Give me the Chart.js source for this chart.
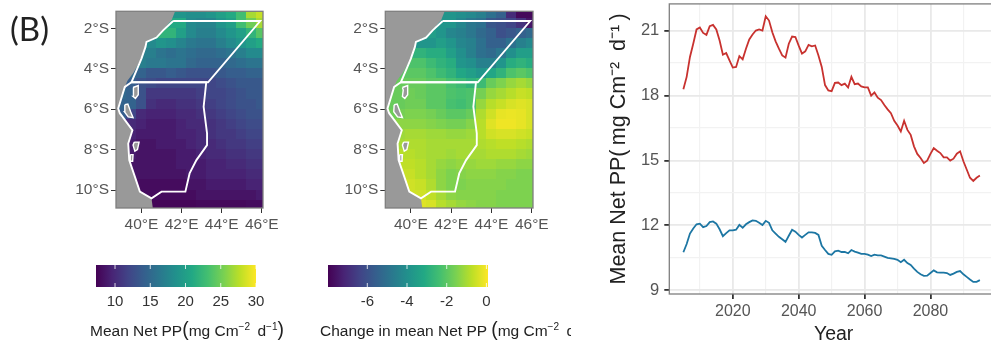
<!DOCTYPE html>
<html>
<head>
<meta charset="utf-8">
<script src="https://cdn.jsdelivr.net/npm/chart.js@4"></script>
<style>
  html, body { margin: 0; padding: 0; background: #fff; width: 991px; height: 341px; overflow: hidden; }
  canvas { position: absolute; filter: blur(0.55px); }
  .lbl { position: absolute; white-space: nowrap; overflow: hidden; font-family: "Liberation Sans", sans-serif; color: #222; filter: blur(0.3px); }
  .lbl sup { font-size: 65%; line-height: 0; }
  .lbl b { font-weight: normal; font-size: 125%; }
</style>
</head>
<body>
<div class="lbl" style="left:10px;top:8px;font:33px Lato,sans-serif;color:#222;">(B)</div>
<canvas id="map1" width="230" height="245" style="left:60px;top:0"></canvas>
<canvas id="map2" width="230" height="245" style="left:330px;top:0"></canvas>
<canvas id="bar1" width="230" height="62" style="left:70px;top:255px"></canvas>
<canvas id="bar2" width="220" height="62" style="left:300px;top:255px"></canvas>
<div class="lbl" style="left:90px;top:318px;font-size:15.5px;">Mean Net PP<b>(</b>mg Cm<sup>&minus;2</sup>&thinsp; d<sup>&minus;1</sup><b>)</b></div>
<div class="lbl" style="left:320px;top:318px;width:251px;font-size:15.5px;">Change in mean Net PP <b>(</b>mg Cm<sup>&minus;2</sup>&thinsp; d<sup>&minus;1</sup><b>)</b></div>
<canvas id="lines" width="398" height="357" style="left:600px;top:-11px"></canvas>
<script>
// line panel
const northSeries = [18.29,18.86,19.78,20.39,21.05,21.14,20.89,20.8,21.2,21.26,21.05,20.54,19.88,19.96,19.62,19.29,19.32,19.82,19.67,20.16,20.59,20.82,21.0,21.05,21.0,21.66,21.46,20.92,20.5,20.16,19.85,19.75,20.39,20.72,20.7,20.3,19.93,20.04,20.34,20.27,20.31,19.85,19.32,18.48,18.23,18.2,18.58,18.6,18.48,18.55,18.37,18.86,18.52,18.55,18.42,18.37,18.37,17.99,18.14,17.9,17.79,17.56,17.36,17.18,16.83,16.61,16.34,16.83,16.41,16.18,15.65,15.3,15.11,14.88,14.99,15.3,15.57,15.45,15.34,15.14,15.14,14.99,15.08,15.31,15.42,14.96,14.58,14.2,14.05,14.2,14.3];
const southSeries = [10.76,11.14,11.62,11.86,12.05,12.08,11.92,11.97,12.15,12.18,12.08,11.82,11.5,11.64,11.77,11.77,11.8,12.02,11.89,12.05,12.15,12.23,12.21,12.12,12.02,12.21,12.12,11.77,11.62,11.47,11.36,11.24,11.52,11.8,11.71,11.56,11.44,11.56,11.68,11.68,11.65,11.56,11.06,10.86,10.68,10.64,10.8,10.83,10.77,10.77,10.71,10.86,10.79,10.74,10.68,10.68,10.65,10.58,10.65,10.61,10.61,10.56,10.5,10.48,10.45,10.41,10.3,10.41,10.26,10.17,10,9.85,9.74,9.67,9.68,9.8,9.92,9.83,9.82,9.82,9.8,9.71,9.77,9.85,9.89,9.74,9.62,9.5,9.39,9.39,9.47];
const firstYear = 2005;
const yearTicks = [2010,2020,2030,2040,2050,2060,2070,2080,2090];
const yearLabels = [2020,2040,2060,2080];
const ppTicks = [9,10.5,12,13.5,15,16.5,18,19.5,21];
const ppLabels = [9,12,15,18,21];

// map panels, 0.5 degree cells, null where it is land
const lons = [39,39.5,40,40.5,41,41.5,42,42.5,43,43.5,44,44.5,45,45.5,46];
const lats = [-1.25,-1.75,-2.25,-2.75,-3.25,-3.75,-4.25,-4.75,-5.25,-5.75,-6.25,-6.75,-7.25,-7.75,-8.25,-8.75,-9.25,-9.75,-10.25,-10.75];
const meanPP = [
  [null,null,null,null,null,19,19,18.5,18.5,19,20,21,23,27,28],
  [null,null,null,null,null,21,21,18,17.5,17.5,19,20,23,25,27],
  [null,null,null,null,22,22,20,18,17,17,18,19,20,22,24],
  [null,null,null,18,19,18.5,17.5,16.5,16,16,17,18,19,20,21],
  [null,null,17,17,16,15.5,16,15.5,15,15,15.5,16,17,18,18],
  [null,null,17,16.5,16.5,16,16,15,14.5,14.5,14.5,15,15.5,16,16],
  [null,15,14.5,13.5,13.5,14,13.5,13,13,13,13.5,14,14,14.5,14.5],
  [null,14,13,12.5,12,12,12,12,12,12,12.5,13,13.5,13.5,13.5],
  [15,14.5,13,11,11,11,11,11,11.5,12,12,12.5,13,13.5,13.5],
  [14.5,14.5,13,10.5,10,10,10.5,10.5,11,11.5,12,12.5,13,13,13.5],
  [14,12,10,9.5,9.5,9.5,10,10,10.5,11,11.5,12,12.5,13,13],
  [10,10,9.5,9,9,9,9.5,10,10,10.5,11,11.5,12,12.5,12.5],
  [9.5,9.5,9,9,9,9,9.5,9.5,10,10.5,11,11,11.5,12,12],
  [9.5,9,8.5,8.5,9,9,9,9.5,10,10,10.5,11,11,11.5,11.5],
  [9,9,8.5,8.5,8.5,8.5,9,9,9.5,10,10,10.5,10.5,11,11],
  [9,8.5,8.5,8.5,8.5,8.5,9,9,9,9.5,9.5,10,10,10.5,10.5],
  [8.5,8.5,8.5,8.5,8.5,8.5,8.5,9,9,9.5,9.5,9.5,9.5,10,10],
  [8,8,8,8,8,8,8,8.5,8.5,9,9,9,9,9.5,9.5],
  [8,8,8,8,8,8,8,8,8.5,8.5,8.5,8.5,8.5,8.5,9],
  [null,null,null,7.6,7.6,7.6,7.6,7.6,7.8,7.8,7.8,7.8,7.8,8,8]
];
const changePP = [
  [null,null,null,null,null,-3.8,-3.8,-4,-4.2,-4.5,-5,-5.5,-7,-7.8,-7.8],
  [null,null,null,null,null,-3.8,-3.8,-4.3,-4.8,-5,-5.8,-6,-6.3,-6.8,-7.5],
  [null,null,null,null,-3.5,-3.8,-4.3,-4.5,-4.8,-5.2,-5.5,-6,-5.8,-5.5,-5.2],
  [null,null,null,-3.8,-3.8,-3.5,-3.8,-4.3,-4.5,-5,-5.5,-5.5,-5,-4.5,-4.2],
  [null,null,-2.8,-2.8,-3,-3,-3.5,-4,-4.5,-5,-5.2,-4.8,-4,-3.5,-3.5],
  [null,null,-2.2,-2.2,-2.5,-2.8,-3,-3.8,-4,-4.5,-4.5,-3.8,-3,-2.8,-3],
  [null,-2,-2,-2,-2.2,-2.5,-2.8,-3.2,-3.5,-3.8,-3.2,-2.8,-2.2,-2,-2.2],
  [null,-1.8,-1.8,-1.8,-2,-2,-2.3,-2.5,-2.8,-2.5,-1.8,-1.5,-1.2,-1,-1.2],
  [-1.8,-1.8,-1.7,-1.8,-2,-2,-2.2,-2.3,-2.2,-1.6,-1.2,-1,-0.8,-0.6,-0.7],
  [-1.8,-1.8,-1.7,-1.7,-2,-2,-2.3,-2.4,-2.2,-1.2,-0.8,-0.6,-0.4,-0.3,-0.4],
  [-1.7,-1.6,-1.5,-1.5,-1.6,-1.8,-2,-2,-1.8,-0.9,-0.5,-0.2,-0.15,-0.2,-0.4],
  [-1.5,-1.3,-1.3,-1.3,-1.4,-1.5,-1.6,-1.6,-1.4,-0.8,-0.3,-0.1,-0.1,-0.2,-0.4],
  [-1.2,-1.1,-1,-1,-1.1,-1.1,-1.2,-1.2,-1.1,-0.8,-0.5,-0.4,-0.4,-0.5,-0.6],
  [-1,-1,-0.9,-0.9,-1,-1,-1,-1,-1,-0.9,-0.8,-0.7,-0.7,-0.8,-0.9],
  [-0.9,-0.8,-0.8,-0.9,-1,-1,-1.1,-1,-1,-1,-0.9,-0.9,-0.9,-1,-1.1],
  [-0.7,-0.7,-0.7,-0.8,-1,-1.2,-1.3,-1.2,-1.2,-1.1,-1.1,-1.2,-1.2,-1.3,-1.3],
  [-0.6,-0.6,-0.6,-0.8,-1,-1.3,-1.5,-1.4,-1.3,-1.3,-1.3,-1.4,-1.4,-1.5,-1.5],
  [-0.5,-0.5,-0.5,-0.6,-0.9,-1.3,-1.5,-1.5,-1.4,-1.4,-1.4,-1.4,-1.5,-1.5,-1.5],
  [-0.5,-0.5,-0.5,-0.5,-0.7,-1,-1.3,-1.4,-1.4,-1.4,-1.4,-1.5,-1.5,-1.5,-1.5],
  [null,null,null,-0.3,-0.4,-0.8,-1,-1.2,-1.3,-1.4,-1.4,-1.5,-1.5,-1.5,-1.5]
];
const lonTicks = [40,42,44,46];
const latTicks = [-10,-8,-6,-4,-2];

// outlines as [lon, lat]
const landShape = [[41.74,-1],[41.5,-1.6],[41.1,-2.05],[40.75,-2.4],[40.25,-2.65],[40.2,-2.95],[40,-3.5],[39.6,-4.2],[39.3,-4.6],[39.17,-4.9],[38.84,-5.97],[39,-6.4],[39.5,-6.9],[39.55,-7.04],[39.34,-7.7],[39.39,-8.52],[39.67,-9.34],[39.92,-10.08],[40.5,-10.41],[40.58,-11],[38,-11],[38,-1],[41.74,-1]];
const northRegion = [[41.58,-1.64],[45.92,-1.64],[43.32,-4.67],[39.5,-4.67],[40,-3.5],[40.2,-2.92],[40.25,-2.67],[40.75,-2.46],[41.08,-2.1],[41.58,-1.64]];
const southRegion = [[39.5,-4.67],[43.23,-4.67],[43.1,-5.88],[43.27,-7.2],[43.27,-7.78],[42.74,-8.52],[42.4,-9.18],[42.19,-10.08],[41,-10.08],[40.5,-10.41],[39.92,-10.08],[39.67,-9.34],[39.39,-8.52],[39.34,-7.7],[39.55,-7.04],[38.92,-6.2],[38.84,-5.97],[39.17,-4.9],[39.5,-4.67]];
const islands = [
  [[39.58,-4.93],[39.84,-4.83],[39.84,-5.29],[39.7,-5.47],[39.58,-5.37],[39.62,-5.06],[39.58,-4.93]],
  [[39.17,-5.78],[39.32,-5.75],[39.46,-6.13],[39.58,-6.42],[39.34,-6.38],[39.15,-6.13],[39.17,-5.78]],
  [[39.64,-7.63],[39.88,-7.63],[39.8,-8],[39.67,-8.08],[39.58,-7.78],[39.64,-7.63]],
  [[39.44,-8.25],[39.58,-8.25],[39.56,-8.58],[39.44,-8.58],[39.44,-8.25]]
];

// colour bars
const meanBarTicks = [10,15,20,25,30];
const changeBarTicks = [-6,-4,-2,0];
const viridis = ['#440154','#482475','#414487','#355f8d','#2a788e','#21918c','#22a884','#44bf70','#7ad151','#bddf26','#fde725'];

const sans = '"Liberation Sans", sans-serif';
const tickGrey = '#555';

function viridisAt(t) {
  t = Math.max(0, Math.min(1, t)) * (viridis.length - 1);
  const i = Math.min(Math.floor(t), viridis.length - 2), f = t - i;
  const a = parseInt(viridis[i].slice(1), 16), b = parseInt(viridis[i + 1].slice(1), 16);
  const mix = s => Math.round(((a >> s) & 255) * (1 - f) + ((b >> s) & 255) * f);
  return `rgb(${mix(16)},${mix(8)},${mix(0)})`;
}

// one little canvas per colour, the scatter uses it as point style
const cellCache = {};
function cellStyle(color) {
  if (!cellCache[color]) {
    const c = document.createElement('canvas');
    c.width = 11; c.height = 11;
    const g = c.getContext('2d');
    g.fillStyle = color;
    g.fillRect(0, 0, 11, 11);
    cellCache[color] = c;
  }
  return cellCache[color];
}

const panelBox = {
  id: 'panelBox',
  beforeDatasetsDraw(chart, args, opts) {
    if (!opts.fill) return;
    const a = chart.chartArea, c = chart.ctx;
    c.fillStyle = opts.fill;
    c.fillRect(a.left, a.top, a.width, a.height);
  },
  afterDatasetsDraw(chart, args, opts) {
    const a = chart.chartArea, c = chart.ctx;
    c.strokeStyle = opts.color;
    c.lineWidth = 1.3;
    c.strokeRect(a.left, a.top, a.width, a.height);
  }
};

const toPoints = list => list.map(p => ({ x: p[0], y: p[1] }));
const outline = list => ({
  data: toPoints(list), showLine: true, pointRadius: 0, borderColor: '#fff', borderWidth: 1.9, order: 1
});

function drawMap(id, grid, lo, hi, axisWidth) {
  const cells = [];
  lats.forEach((lat, r) => lons.forEach((lon, c) => {
    if (grid[r][c] !== null) cells.push({ x: lon, y: lat, v: grid[r][c] });
  }));
  const islandSets = islands.map(s => ({
    ...outline(s), fill: 'shape', backgroundColor: '#999', borderWidth: 1.4, order: 1
  }));
  new Chart(document.getElementById(id), {
    type: 'scatter',
    data: {
      datasets: [
        { data: cells, order: 4, pointRadius: 5, pointStyle: ctx => cellStyle(viridisAt((ctx.raw.v - lo) / (hi - lo))) },
        { data: toPoints(landShape), showLine: true, fill: 'shape', backgroundColor: '#999', borderWidth: 0, pointRadius: 0, order: 3 },
        ...islandSets,
        outline(northRegion),
        outline(southRegion)
      ]
    },
    plugins: [panelBox],
    options: {
      responsive: false,
      animation: false,
      layout: { padding: { top: 11, right: 27 } },
      plugins: { legend: { display: false }, tooltip: { enabled: false }, panelBox: { color: '#7f7f7f', fill: '#999' } },
      scales: {
        x: {
          type: 'linear', min: 38.73, max: 46.06,
          afterBuildTicks: s => { s.ticks = lonTicks.map(v => ({ value: v })); },
          afterFit: s => { s.height = 37; },
          grid: { drawOnChartArea: false, tickLength: 5, tickColor: '#333' },
          border: { display: false },
          ticks: { color: tickGrey, font: { family: sans, size: 15.5 }, padding: 2, maxRotation: 0, autoSkip: false, callback: v => v + '°E' }
        },
        y: {
          type: 'linear', min: -10.89, max: -1.16,
          afterBuildTicks: s => { s.ticks = latTicks.map(v => ({ value: v })); },
          afterFit: s => { s.width = axisWidth; },
          grid: { drawOnChartArea: false, tickLength: 5, tickColor: '#333' },
          border: { display: false },
          ticks: { color: tickGrey, font: { family: sans, size: 15.5 }, padding: 2, autoSkip: false, callback: v => (-v) + '°S' }
        }
      }
    }
  });
}

function drawBar(id, min, max, tickValues, padLeft, width) {
  new Chart(document.getElementById(id), {
    type: 'bar',
    data: {
      labels: [''],
      datasets: [{
        data: [[min, max]],
        barPercentage: 1, categoryPercentage: 1, borderWidth: 0,
        backgroundColor: ctx => {
          const a = ctx.chart.chartArea;
          if (!a) return viridis[0];
          const g = ctx.chart.ctx.createLinearGradient(a.left, 0, a.right, 0);
          viridis.forEach((col, i) => g.addColorStop(i / (viridis.length - 1), col));
          return g;
        }
      }]
    },
    plugins: [{
      id: 'barTicks',
      afterDatasetsDraw(chart) {
        const a = chart.chartArea, c = chart.ctx, x = chart.scales.x;
        c.strokeStyle = '#fff';
        c.lineWidth = 0.8;
        tickValues.forEach(v => {
          const p = x.getPixelForValue(v);
          c.beginPath();
          c.moveTo(p, a.top); c.lineTo(p, a.top + 4);
          c.moveTo(p, a.bottom - 4); c.lineTo(p, a.bottom);
          c.stroke();
        });
      }
    }],
    options: {
      indexAxis: 'y',
      responsive: false,
      animation: false,
      layout: { padding: { left: padLeft, right: width, top: 10 } },
      plugins: { legend: { display: false }, tooltip: { enabled: false } },
      scales: {
        x: {
          type: 'linear', min, max,
          afterBuildTicks: s => { s.ticks = tickValues.map(v => ({ value: v })); },
          afterFit: s => { s.height = 30; },
          grid: { display: false, drawTicks: false },
          border: { display: false },
          ticks: { color: '#333', font: { family: sans, size: 15 }, padding: 6, maxRotation: 0, autoSkip: false }
        },
        y: { display: false }
      }
    }
  });
}

drawMap('map1', meanPP, 7.3, 30, 56);
drawMap('map2', changePP, -7.98, 0.08, 55.3);
drawBar('bar1', 7.3, 30, meanBarTicks, 26, 44);
drawBar('bar2', -7.98, 0.08, changeBarTicks, 28, 32);

const toSeries = list => list.map((v, i) => ({ x: firstYear + i, y: v }));
const gridColor = (ctx, majors) => majors.includes(ctx.tick.value) ? '#e9e9e9' : '#f2f2f2';
new Chart(document.getElementById('lines'), {
  type: 'line',
  data: {
    datasets: [
      { data: toSeries(northSeries), borderColor: '#c8322f', borderWidth: 1.8, pointRadius: 0, tension: 0 },
      { data: toSeries(southSeries), borderColor: '#1c76a3', borderWidth: 1.8, pointRadius: 0, tension: 0 }
    ]
  },
  plugins: [panelBox],
  options: {
    responsive: false,
    animation: false,
    layout: { padding: { top: 12 } },
    plugins: { legend: { display: false }, tooltip: { enabled: false }, panelBox: { color: '#7f7f7f' } },
    scales: {
      x: {
        type: 'linear', min: 2000.73, max: 2100.5,
        afterBuildTicks: s => { s.ticks = yearTicks.map(v => ({ value: v })); },
        afterFit: s => { s.height = 52; },
        grid: {
          color: ctx => gridColor(ctx, yearLabels),
          lineWidth: ctx => yearLabels.includes(ctx.tick.value) ? 1.8 : 1.2,
          tickLength: 5,
          tickColor: ctx => yearLabels.includes(ctx.tick.value) ? '#333' : 'rgba(0,0,0,0)'
        },
        border: { display: false },
        ticks: {
          color: tickGrey, font: { family: sans, size: 16 }, padding: 3, maxRotation: 0, autoSkip: false,
          callback: v => yearLabels.includes(v) ? String(v) : ''
        },
        title: { display: true, text: 'Year', color: '#222', font: { family: sans, size: 19.5 }, padding: { top: 0, bottom: 0 } }
      },
      y: {
        type: 'linear', min: 8.83, max: 22.23,
        afterBuildTicks: s => { s.ticks = ppTicks.map(v => ({ value: v })); },
        afterFit: s => { s.width = 69.3; },
        grid: {
          color: ctx => gridColor(ctx, ppLabels),
          lineWidth: ctx => ppLabels.includes(ctx.tick.value) ? 1.8 : 1.2,
          tickLength: 5,
          tickColor: ctx => ppLabels.includes(ctx.tick.value) ? '#333' : 'rgba(0,0,0,0)'
        },
        border: { display: false },
        ticks: {
          color: tickGrey, font: { family: sans, size: 16.5 }, padding: 5, autoSkip: false,
          callback: v => ppLabels.includes(v) ? String(v) : ''
        },
        title: { display: true, text: 'Mean Net PP(\u2009mg Cm⁻²\u2002d⁻¹\u2009)', color: '#222', font: { family: sans, size: 21.5 }, padding: { top: 6, bottom: 0 } }
      }
    }
  }
});
</script>
</body>
</html>
